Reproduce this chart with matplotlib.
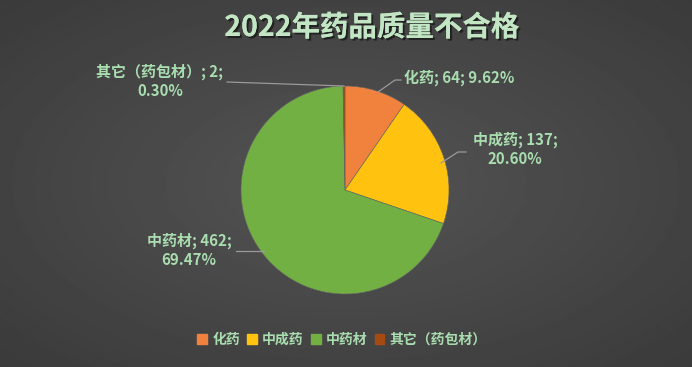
import numpy as np
import matplotlib
matplotlib.use("Agg")
import matplotlib.pyplot as plt
import matplotlib.patheffects as pe

plt.rcParams['font.family'] = ['Noto Sans CJK SC', 'DejaVu Sans']

categories = ['化药', '中成药', '中药材', '其它（药包材）']
counts = [64, 137, 462, 2]
percents = ['9.62%', '20.60%', '69.47%', '0.30%']
colors = ['#F0823E', '#FFC20E', '#72B043', '#A54A12']
title = '2022年药品质量不合格'
text_color = '#A9DDB0'

W, H = 692, 367
fig = plt.figure(figsize=(W / 100, H / 100), dpi=100)

# background gradient
bg = fig.add_axes([0, 0, 1, 1])
yy, xx = np.mgrid[-1:1:200j, -1:1:380j]
r = np.sqrt(xx ** 2 + yy ** 2) / np.sqrt(2)
bg.imshow(0.33 - 0.10 * r, cmap='gray', vmin=0, vmax=1, aspect='auto', extent=[0, 1, 0, 1])
bg.set_axis_off()

# pie axes
cx, cy, R = 345, 190, 104
ax = fig.add_axes([(cx - R) / W, (H - cy - R) / H, 2 * R / W, 2 * R / H])
wedges, _ = ax.pie(counts, colors=colors, startangle=90, counterclock=False,
                   radius=1, wedgeprops=dict(linewidth=0.4, edgecolor='#666666'))
ax.set_xlim(-1, 1)
ax.set_ylim(-1, 1)
ax.set_aspect('equal')
ax.set_axis_off()

# labels
label_specs = [
    (f'{categories[0]}; {counts[0]}; {percents[0]}', (404, 78), 'left', [(378, 92), (395, 80), (401, 80)]),
    (f'{categories[1]}; {counts[1]};\n{percents[1]}', (515, 149), 'center', [(441, 163), (458, 152), (466, 152)]),
    (f'{categories[2]}; {counts[2]};\n{percents[2]}', (189, 250), 'center', [(236, 251), (264, 251)]),
    (f'{categories[3]}; {counts[3]};\n{percents[3]}', (160, 81), 'center', [(227, 82), (344, 86)]),
]
for txt, (tx, ty), ha, pts in label_specs:
    fig.text(tx / W, 1 - ty / H, txt, ha=ha, va='center', color=text_color,
             fontsize=10.8, fontweight='bold', linespacing=1.2)
    xs = [p[0] / W for p in pts]
    ys = [1 - p[1] / H for p in pts]
    fig.add_artist(plt.Line2D(xs, ys, color='#9a9a9a', linewidth=0.9))

fig.text(372 / W, 1 - 28 / H, title, ha='center', va='center', color='#C2E6C4',
         fontsize=20.5, fontweight='bold',
         path_effects=[pe.withSimplePatchShadow(offset=(1.5, -1.5), shadow_rgbFace='black', alpha=0.5), pe.Normal()])

handles = [plt.Rectangle((0, 0), 1, 1, color=c) for c in colors]
fig.legend(handles, categories, loc='center', bbox_to_anchor=(342 / W, 1 - 340 / H), ncol=4,
           frameon=False, handlelength=0.7, handleheight=0.7, handletextpad=0.4,
           columnspacing=0.5, labelcolor=text_color, prop={'weight': 'bold', 'size': 10})

fig.savefig('out.png', dpi=100)
